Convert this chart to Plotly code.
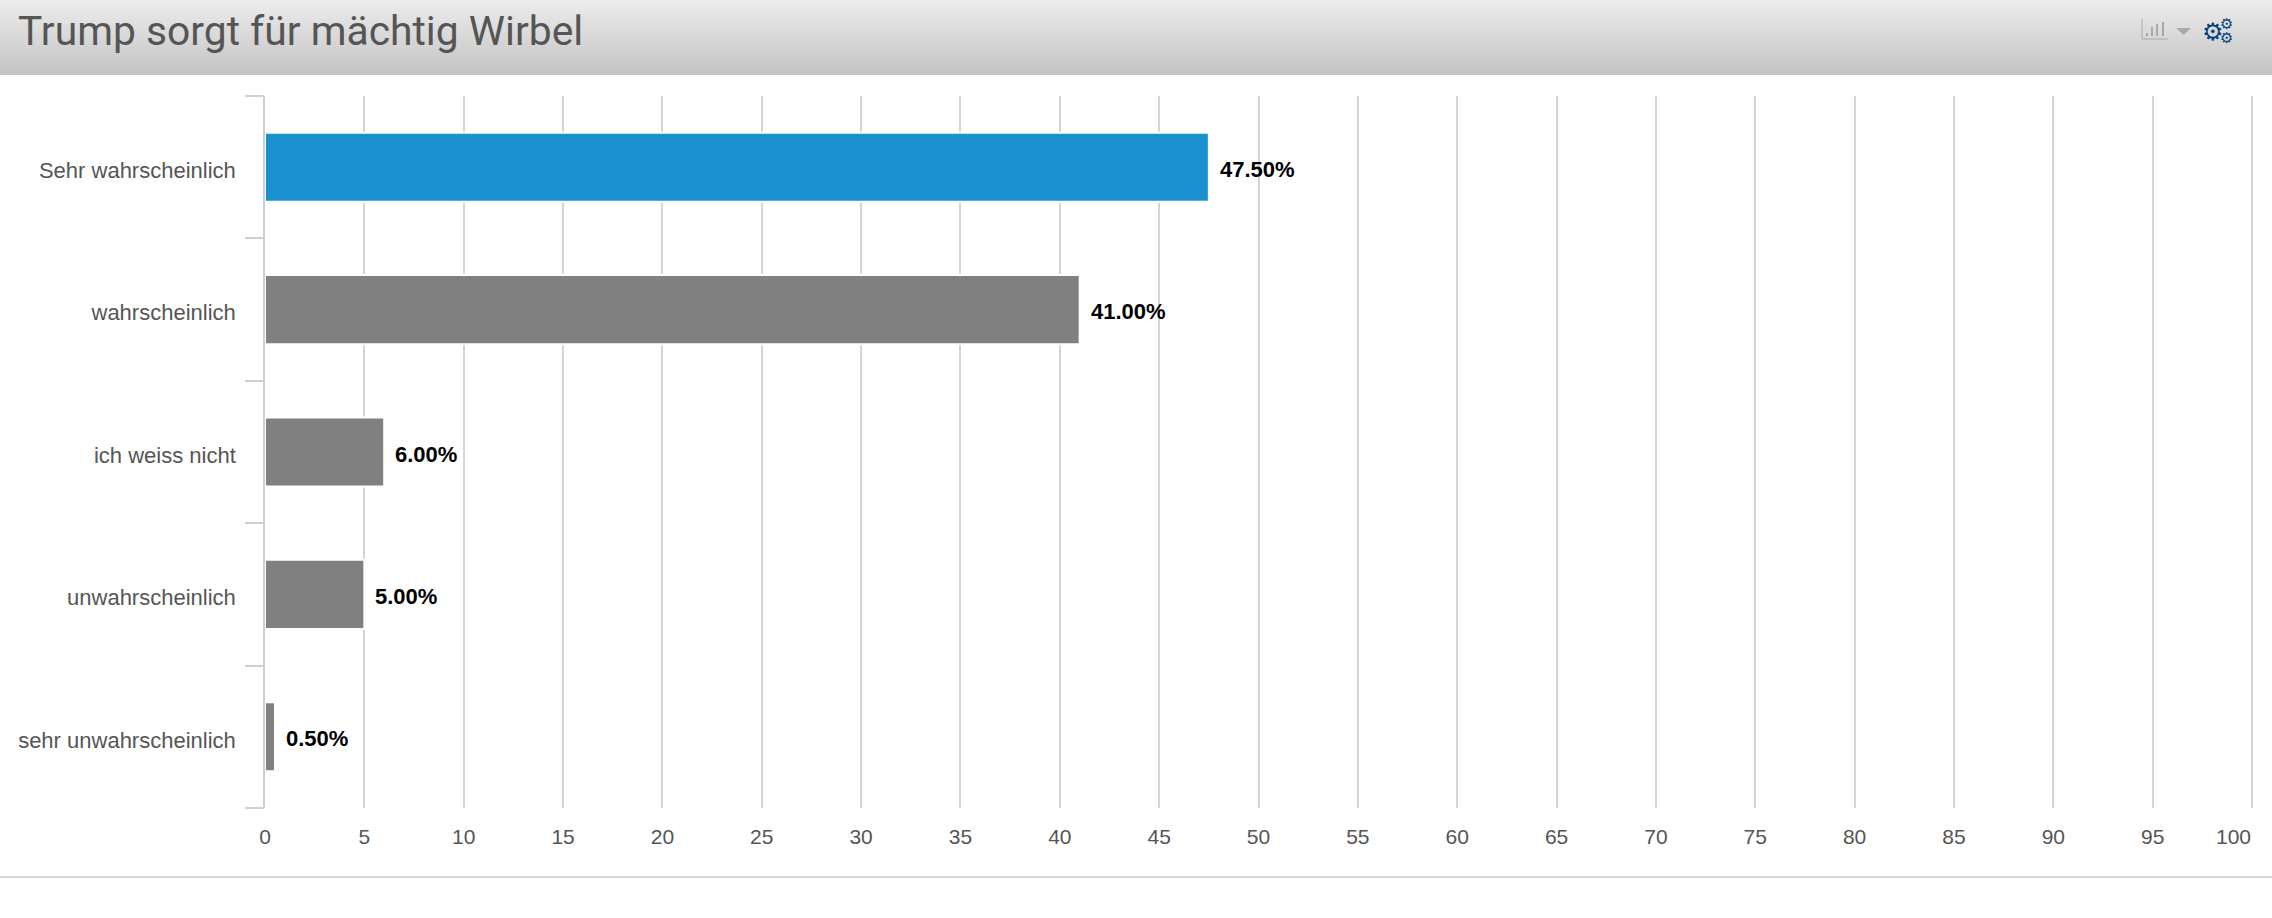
import plotly.graph_objects as go

W, H = 2272, 918

title = "Trump sorgt für mächtig Wirbel"
categories = ["Sehr wahrscheinlich", "wahrscheinlich", "ich weiss nicht",
              "unwahrscheinlich", "sehr unwahrscheinlich"]
values = [47.5, 41.0, 6.0, 5.0, 0.5]
value_labels = ["47.50%", "41.00%", "6.00%", "5.00%", "0.50%"]
bar_colors = ["#1a90cf", "#808080", "#808080", "#808080", "#808080"]
x_ticks = list(range(0, 105, 5))

L, R, T, B = 265, 2254, 96, 808  # plot area in pixels


def px(x):
    return (x - L) / (R - L)


def py(y):
    return (B - y) / (B - T)


fig = go.Figure()
fig.add_trace(go.Bar(
    y=list(range(len(categories))), x=values, orientation="h", width=0.485,
    marker=dict(color=bar_colors, line=dict(color="white", width=2)),
    cliponaxis=False, hoverinfo="skip",
))

shapes = []
# header gradient
HEAD = 75
for i in range(HEAD):
    t = i / (HEAD - 1)
    v = round(236 - (236 - 196) * t)
    shapes.append(dict(type="rect", xref="paper", yref="paper", layer="below",
                       x0=px(0), x1=px(W), y0=py(i + 1), y1=py(i),
                       fillcolor=f"rgb({v},{v},{v})", line_width=0))
# footer rule
shapes.append(dict(type="line", xref="paper", yref="paper", x0=px(0), x1=px(W),
                   y0=py(877), y1=py(877), line=dict(color="#d8d8d8", width=2)))
# chart icon in the header
icon = "#a9a9a9"
shapes.append(dict(type="line", xref="paper", yref="paper", x0=px(2142), x1=px(2142),
                   y0=py(19), y1=py(39), line=dict(color=icon, width=1)))
shapes.append(dict(type="line", xref="paper", yref="paper", x0=px(2142), x1=px(2168),
                   y0=py(39), y1=py(39), line=dict(color=icon, width=1)))
for bx, by in zip([2147, 2152, 2157, 2163], [33, 27, 24, 22]):
    shapes.append(dict(type="line", xref="paper", yref="paper", x0=px(bx), x1=px(bx),
                       y0=py(by), y1=py(36), line=dict(color=icon, width=2)))
shapes.append(dict(type="path", xref="paper", yref="paper",
                   path=f"M {px(2176)} {py(28)} L {px(2191)} {py(28)} L {px(2183.5)} {py(35)} Z",
                   fillcolor=icon, line_width=0))

annotations = [
    dict(text=title, xref="paper", yref="paper", x=px(16), y=py(31),
         xanchor="left", yanchor="middle", showarrow=False,
         font=dict(family="Roboto", size=40.8, color="#555555")),
    # gear icons
    dict(text="<b>⚙</b>", xref="paper", yref="paper", x=px(2213), y=py(32),
         xanchor="center", yanchor="middle", showarrow=False,
         font=dict(family="DejaVu Sans", size=24, color="#04417f")),
    dict(text="<b>⚙</b>", xref="paper", yref="paper", x=px(2226), y=py(24),
         xanchor="center", yanchor="middle", showarrow=False,
         font=dict(family="DejaVu Sans", size=15, color="#04417f")),
    dict(text="<b>⚙</b>", xref="paper", yref="paper", x=px(2226), y=py(38),
         xanchor="center", yanchor="middle", showarrow=False,
         font=dict(family="DejaVu Sans", size=15, color="#04417f")),
    # last x label is pulled inside the plot's right edge
    dict(text=str(x_ticks[-1]), xref="x", yref="paper", x=x_ticks[-1], xshift=1,
         y=py(B + 28), xanchor="right", yanchor="middle", showarrow=False,
         font=dict(family="Liberation Sans", size=21, color="#555555")),
]
for i, (v, lab) in enumerate(zip(values, value_labels)):
    annotations.append(dict(text=f"<b>{lab}</b>", x=v, y=i, xref="x", yref="y", xshift=9, yshift=-2,
                            xanchor="left", yanchor="middle", showarrow=False,
                            font=dict(family="Liberation Sans", size=22, color="#000000")))

fig.update_layout(
    width=W, height=H, autosize=False,
    margin=dict(l=L, r=W - R, t=T, b=H - B),
    paper_bgcolor="white", plot_bgcolor="rgba(0,0,0,0)",
    showlegend=False, bargap=0.5,
    shapes=shapes, annotations=annotations,
)
fig.update_xaxes(
    range=[0, 100.1], tickvals=x_ticks,
    ticktext=[str(t) if t != x_ticks[-1] else " " for t in x_ticks],
    showgrid=True, gridcolor="#d6d6d6", gridwidth=1.6, zeroline=False,
    showline=False, ticks="", ticklabelstandoff=14,
    tickfont=dict(family="Liberation Sans", size=21, color="#555555"),
)
fig.update_yaxes(
    range=[len(categories) - 0.5, -0.5], tickmode="array",
    tickvals=list(range(len(categories))), ticktext=categories,
    showgrid=False, zeroline=False, showline=True, linecolor="#c9d0d8", linewidth=1.6,
    ticks="", tickfont=dict(family="Liberation Sans", size=22, color="#555555"),
    ticklabelstandoff=23, ticklabelshift=-3,
)
# category-boundary ticks, drawn by a hidden overlay axis
fig.add_trace(go.Scatter(x=[None], y=[None], yaxis="y2", showlegend=False, hoverinfo="skip"))
fig.update_layout(yaxis2=dict(
    overlaying="y", side="left", range=[len(categories) - 0.5, -0.5],
    tickmode="array", tickvals=[i - 0.5 for i in range(len(categories) + 1)],
    ticktext=[""] * (len(categories) + 1), ticks="outside", ticklen=19, tickwidth=1.6,
    tickcolor="#c9d0d8", showgrid=False, zeroline=False, showline=False,
))

fig.write_html("out.html", config=dict(displayModeBar=False),
               post_script="document.body.style.margin='0';document.body.style.overflow='hidden';")
